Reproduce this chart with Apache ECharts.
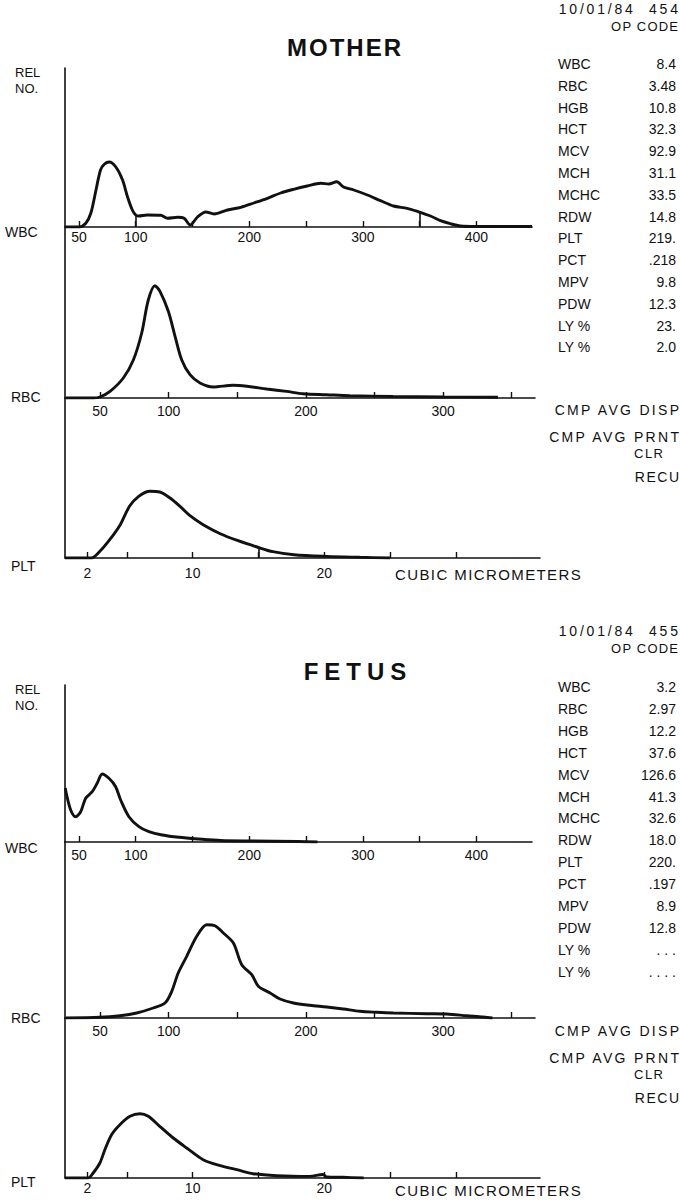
<!DOCTYPE html>
<html><head><meta charset="utf-8">
<script src="https://cdn.jsdelivr.net/npm/echarts@6/dist/echarts.min.js"></script>
<style>html,body{margin:0;padding:0;background:#fff}#c{width:680px;height:1200px}</style>
</head><body><div id="c"></div><script>
// ---------- data (size in femtolitres / cubic micrometers, relative number) ----------
const wbcTicks = [50, 100, 150, 200, 250, 300, 350, 400];
const wbcTickLabels = [50, 100, 200, 300, 400];
const rbcTicks = [50, 100, 150, 200, 250, 300, 350];
const rbcTickLabels = [50, 100, 200, 300];
const pltTicks = [2, 5, 10, 15, 20, 25, 30];
const pltTickLabels = [2, 10, 20];

const motherWBC = [[38,0],[50,0],[56,3.7],[60.5,14],[65,37],[69,57],[72.5,63],[76.7,65],[82.5,60],[88.4,47],[92.8,30],[97,17],[100,12],[102.5,11],[110,12],[122,11.7],[128,8.7],[137,9.7],[142.6,8.7],[148,2],[154.4,10],[161.7,15],[169,13],[180.8,17],[192.5,19.7],[204,24],[216,28.7],[227.6,34],[239,37.7],[251,41],[263,43.7],[270,43],[277,45.3],[283,40],[292,37],[304,32],[315.6,26.3],[327,21],[339,18.7],[348.8,15.3],[359.6,11],[368.4,6.3],[377,3.3],[386,1],[400,0.5],[449,0.5]];
const motherWbcMarkers = [[100, 12], [350, 15]];
const motherRBC = [[25,0],[45,0],[50,1],[57.3,6.6],[67,20],[74.3,38],[80.4,65],[85.2,98],[90,112.3],[93.7,106.7],[99.8,86.7],[104.7,61.7],[109.5,38.3],[115.6,23.3],[122.9,15],[132.6,11],[147,12.7],[157,11.7],[171.5,9],[186,6.6],[198,4.3],[215,3.3],[232,2.3],[263.5,1.5],[300,1],[340,0.8]];
const motherPLT = [[0.3,0],[2.3,0],[2.95,6.7],[3.7,18.3],[4.5,33.3],[5.2,51.7],[5.9,61.7],[6.76,66.7],[7.5,66],[8.28,60],[9.04,51.7],[9.8,42.3],[10.8,33.3],[12.1,24.3],[13.4,17.6],[14.9,11],[16.1,6.3],[17.7,3.3],[20.2,1.6],[22.7,0.7],[25,0]];
const motherPltMarkers = [[15, 11]];

const fetusWBC = [[38,54],[38.8,48.7],[42.7,32],[47,25.3],[51.5,30.3],[55.9,43.7],[61.7,50.3],[66,58.7],[70.5,68],[76.4,63.7],[82.3,55.3],[86.7,42],[94,25.3],[102.8,15.3],[111.6,10.3],[123.3,7],[138,4.7],[155.5,3],[175,1.5],[200,1],[243,0.5],[260,0]];
const fetusRBC = [[25,0],[50,0.7],[64.6,2.3],[76.7,5],[88.8,10],[97.4,15],[102.3,26.7],[107,45],[113.2,61.7],[120.5,81.7],[127.8,93.3],[133.8,92.3],[139.9,85],[147.2,75],[153.3,53.3],[160.6,43.3],[165.4,31.7],[174,25],[181.2,19],[191,15],[203,12.7],[215.2,11],[227.3,9],[239.5,6.7],[251.7,5.7],[263.8,5],[288,4.3],[302.7,4],[317.3,2.3],[329.4,1],[336,0]];
const fetusPLT = [[0.3,0],[2.06,0],[2.44,5],[2.95,15],[3.33,28.3],[3.84,43.3],[4.47,53.3],[5.24,61.7],[6,64.3],[6.63,61.7],[7.5,51.7],[8.53,40],[9.55,30],[10.8,18.3],[12.1,12.3],[13.36,8.3],[14.6,4.3],[16.4,2.3],[18.9,1.6],[19.9,3.5],[20.2,1],[21.4,0.7],[23,0]];

const listLabels = ['WBC','RBC','HGB','HCT','MCV','MCH','MCHC','RDW','PLT','PCT','MPV','PDW','LY %','LY %'];
const motherValues = ['8.4','3.48','10.8','32.3','92.9','31.1','33.5','14.8','219.','.218','9.8','12.3','23.','2.0'];
const fetusValues = ['3.2','2.97','12.2','37.6','126.6','41.3','32.6','18.0','220.','.197','8.9','12.8','. . .','. . . .'];
const headers = [['10/01/84  454', 'MOTHER'], ['10/01/84  455', 'FETUS']];

// ---------- layout ----------
const FONT = '"Liberation Sans", Arial, Helvetica, sans-serif';
const panels = [
  { title: headers[0][1], values: motherValues, date: headers[0][0],
    wbc: motherWBC, rbc: motherRBC, plt: motherPLT, wbcMk: motherWbcMarkers, pltMk: motherPltMarkers,
    g: [{t:68,h:159,m:3},{t:227,h:171,m:6},{t:398,h:160,m:8}],
    dateY: 9, titleX: 344, titleY: 47, titleSp: 2, relY: 72, listY: 64, step: 21.8, cmpY: 410, cubicY: 574,
    sideY: [232, 397, 566] },
  { title: headers[1][1], values: fetusValues, date: headers[1][0],
    wbc: fetusWBC, rbc: fetusRBC, plt: fetusPLT, wbcMk: [], pltMk: [],
    g: [{t:685,h:157,m:6},{t:842,h:176,m:6},{t:1018,h:160,m:3}],
    dateY: 631, titleX: 355, titleY: 671, titleSp: 6, relY: 689, listY: 687, step: 21.9, cmpY: 1031, cubicY: 1190,
    sideY: [848, 1018, 1182] }
];

const kinds = [
  { key:'wbc', mk:'wbcMk', min:37.7, max:449, w:467, ticks:wbcTicks, labels:wbcTickLabels },
  { key:'rbc', mk:null, min:24.5, max:367, w:470, ticks:rbcTicks, labels:rbcTickLabels },
  { key:'plt', mk:'pltMk', min:0.3, max:36.4, w:475, ticks:pltTicks, labels:pltTickLabels }
];

const grid = [], xAxis = [], yAxis = [], series = [], graphic = [];
const spacing = {};   // letter spacing (px) applied to some printer texts
const black = '#111';
panels.forEach((p) => {
  kinds.forEach((k, ki) => {
    const gi = grid.length;
    const g = p.g[ki];
    grid.push({ left: 65, top: g.t, width: k.w, height: g.h, containLabel: false });
    xAxis.push({
      type: 'value', gridIndex: gi, min: k.min, max: k.max,
      axisLine: { show: true, onZero: false, lineStyle: { color: black, width: 1.6 } },
      axisTick: { show: true, inside: true, length: 6, customValues: k.ticks, lineStyle: { color: black, width: 1.4 } },
      axisLabel: { show: true, customValues: k.labels, margin: g.m, color: black, fontSize: 14, fontFamily: FONT },
      splitLine: { show: false }
    });
    yAxis.push({
      type: 'value', gridIndex: gi, min: 0, max: g.h,
      axisLine: { show: true, lineStyle: { color: black, width: 1.6 } },
      axisTick: { show: false }, axisLabel: { show: false }, splitLine: { show: false }
    });
    const s = {
      type: 'line', xAxisIndex: gi, yAxisIndex: gi, data: p[k.key],
      showSymbol: false, smooth: 0.3, silent: true,
      lineStyle: { color: black, width: 2.9 }, z: 3
    };
    if (k.mk && p[k.mk].length) {
      s.markLine = {
        symbol: 'none', silent: true, label: { show: false },
        lineStyle: { color: black, width: 1.6, type: 'solid' },
        data: p[k.mk].map(m => [{ coord: [m[0], 0] }, { coord: [m[0], m[1]] }])
      };
    }
    series.push(s);
  });

  const txt = (x, y, text, opt, sp) => {
    const o = Object.assign({ text, fill: black, font: '14px ' + FONT, textAlign: 'left', textVerticalAlign: 'middle' }, opt || {});
    let dx = 0;
    if (sp) {
      spacing[text] = sp;
      dx = o.textAlign === 'right' ? sp : (o.textAlign === 'center' ? sp / 2 : 0);
    }
    graphic.push({ type: 'text', x: x + dx, y, silent: true, style: o });
  };
  txt(678, p.dateY, p.date, { textAlign: 'right', font: '14px ' + FONT }, 2.8);
  txt(678, p.dateY + 17, 'OP CODE', { textAlign: 'right', font: '13px ' + FONT }, 1.2);
  txt(p.titleX, p.titleY, p.title, { textAlign: 'center', font: 'bold 24px ' + FONT }, p.titleSp);
  txt(15, p.relY, 'REL', { font: '13px ' + FONT });
  txt(15, p.relY + 16, 'NO.', { font: '13px ' + FONT });
  listLabels.forEach((l, i) => {
    txt(558, p.listY + i * p.step, l);
    txt(676, p.listY + i * p.step, p.values[i], { textAlign: 'right' });
  });
  txt(679, p.cmpY, 'CMP AVG DISP', { textAlign: 'right' }, 2.3);
  txt(679, p.cmpY + 27, 'CMP AVG PRNT', { textAlign: 'right' }, 2.3);
  txt(634, p.cmpY + 43, 'CLR', { font: '13px ' + FONT }, 1.5);
  txt(679, p.cmpY + 67, 'RECU', { textAlign: 'right' }, 1.5);
  txt(395, p.cubicY, 'CUBIC MICROMETERS', { font: '15px ' + FONT }, 1.4);
  txt(5, p.sideY[0], 'WBC');
  txt(11, p.sideY[1], 'RBC');
  txt(11, p.sideY[2], 'PLT');
});

const chart = echarts.init(document.getElementById('c'), null, { renderer: 'svg', width: 680, height: 1200 });
function applySpacing() {
  document.querySelectorAll('#c svg text').forEach(t => {
    const sp = spacing[t.textContent];
    if (sp != null) t.setAttribute('letter-spacing', sp);
  });
}
chart.on('finished', applySpacing);
chart.setOption({
  animation: false, backgroundColor: '#fff',
  grid, xAxis, yAxis, series, graphic
});
applySpacing();
</script></body></html>
